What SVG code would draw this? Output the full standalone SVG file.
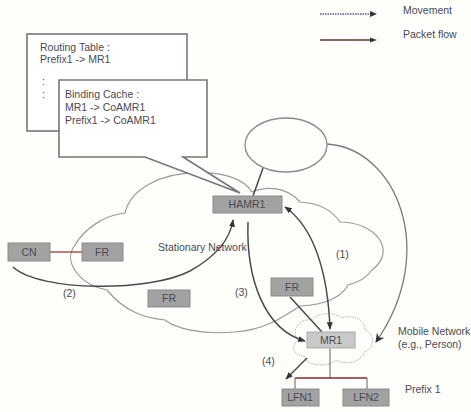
<svg xmlns="http://www.w3.org/2000/svg" width="471" height="412" viewBox="0 0 471 412">
<defs>
<style>
text{font-family:"Liberation Sans",Arial,sans-serif;font-size:10.5px;fill:#4a4a52}
.box{fill:#a2a2a2;stroke:#8a8a8a;stroke-width:1}
.lt{fill:#c9c9c9;stroke:#aaa;stroke-width:1}
.call{fill:#fff;stroke:#777;stroke-width:1.6}
.cloud{fill:none;stroke:#9a9a9a;stroke-width:1.2}
.mv{fill:none;stroke:#7a7a7a;stroke-width:1.3}
.pk{fill:none;stroke:#4a4a4a;stroke-width:1.5}
.c{text-anchor:middle}
</style>
<marker id="ah" viewBox="0 0 10 10" refX="9" refY="5" markerWidth="5" markerHeight="5" orient="auto-start-reverse"><path d="M0,1 L10,5 L0,9 Z" fill="#333"/></marker>
<marker id="ah2" viewBox="0 0 10 10" refX="9" refY="5" markerWidth="7" markerHeight="7" orient="auto"><path d="M0,0 L10,5 L0,10 L3,5 Z" fill="#333"/></marker>
</defs>
<rect width="471" height="412" fill="#fefefa"/>

<g id="legend">
<line x1="320" y1="14" x2="374" y2="14" stroke="#5a5a9a" stroke-width="1.5" stroke-dasharray="1.5,1"/>
<path d="M370,11 L377,14 L370,17 Z" fill="#333"/>
<text x="403" y="14">Movement</text>
<line x1="320" y1="40" x2="374" y2="40" stroke="#6a3030" stroke-width="1.5"/>
<path d="M370,37.5 L377,40 L370,42.5 Z" fill="#333"/>
<text x="403" y="38">Packet flow</text>
</g>

<g id="stationary-network">
<path class="cloud" d="M107,290 C80,285 62,262 75,245 C85,228 105,215 125,213 C130,190 160,172 200,173 C225,172 245,180 252,192 C268,185 288,188 300,202 C318,203 332,210 340,222 C375,222 398,250 372,270 C365,280 356,283 348,285 C340,300 320,305 300,306 C285,316 265,330 235,332 C200,335 175,328 165,320 C145,318 125,312 107,290 Z"/>
<text x="158" y="251">Stationary Network</text>
</g>

<g id="mobile-network">
<path d="M298,340 C290,330 300,318 312,320 C318,312 335,312 342,318 C352,314 366,320 365,330 C376,334 374,350 364,352 C362,362 345,366 336,360 C328,368 306,366 304,356 C294,356 290,346 298,340 Z" fill="none" stroke="#b5b5b5" stroke-width="1" stroke-dasharray="1.5,1"/>
<text x="398" y="335">Mobile Network</text>
<text x="398" y="348">(e.g., Person)</text>
</g>

<g id="routing-table">
<rect class="call" x="27" y="34" width="160" height="97"/>
<text x="40" y="51">Routing Table :</text>
<text x="40" y="63">Prefix1 -&gt; MR1</text>
<text x="42" y="85">:</text>
<text x="42" y="98">:</text>
</g>

<g id="binding-cache">
<path class="call" d="M59,80 H207 V157 H183 L240,193 L145,157 H59 Z"/>
<text x="65" y="98">Binding Cache :</text>
<text x="65" y="111">MR1 -&gt; CoAMR1</text>
<text x="65" y="124">Prefix1 -&gt; CoAMR1</text>
</g>

<g id="connectors">
<line x1="263" y1="168" x2="253" y2="196" class="pk"/>
<path class="mv" d="M327,144 C395,148 440,250 376,342" marker-end="url(#ah2)"/>
<line x1="50" y1="252" x2="82" y2="252" stroke="#9a3a3a" stroke-width="1.3"/>
<path class="pk" d="M13,267 C40,292 150,292 190,271 C215,257 230,240 233,220" marker-end="url(#ah)"/>
<path class="pk" d="M285,207 C315,228 328,275 330,329" marker-start="url(#ah)" marker-end="url(#ah)"/>
<path class="pk" d="M248,222 C246,280 265,330 305,341" marker-end="url(#ah)"/>
<line x1="290" y1="297" x2="322" y2="332" class="pk"/>
<line x1="307" y1="358" x2="286" y2="379" class="pk" marker-end="url(#ah)"/>
<line x1="330" y1="348" x2="330" y2="378" stroke="#777" stroke-width="1.2"/>
<line x1="295" y1="378" x2="367" y2="378" stroke="#8a2a2a" stroke-width="1.6"/>
<line x1="295" y1="378" x2="295" y2="389" stroke="#777" stroke-width="1.2"/>
<line x1="367" y1="378" x2="367" y2="389" stroke="#777" stroke-width="1.2"/>
<text x="336" y="258">(1)</text>
<text x="63" y="297">(2)</text>
<text x="235" y="296">(3)</text>
<text x="262" y="365">(4)</text>
</g>

<g id="ellipse">
<ellipse cx="286" cy="145" rx="41" ry="27" fill="none" stroke="#8a8a8a" stroke-width="1.3"/>
</g>

<g id="HAMR1"><rect class="box" x="213" y="196" width="69" height="17"/><text class="c" x="247" y="208">HAMR1</text></g>
<g id="CN"><rect class="box" x="8" y="243" width="42" height="18"/><text class="c" x="29" y="256">CN</text></g>
<g id="FR1"><rect class="box" x="82" y="243" width="41" height="18"/><text class="c" x="102" y="256">FR</text></g>
<g id="FR2"><rect class="box" x="148" y="290" width="42" height="17"/><text class="c" x="169" y="302">FR</text></g>
<g id="FR3"><rect class="box" x="271" y="278" width="42" height="18"/><text class="c" x="292" y="291">FR</text></g>
<g id="MR1"><rect class="lt" x="307" y="332" width="48" height="16"/><text class="c" x="331" y="344">MR1</text></g>
<g id="LFN1"><rect class="box" x="282" y="389" width="37" height="17"/><text class="c" x="300" y="401">LFN1</text></g>
<g id="LFN2"><rect class="box" x="343" y="389" width="46" height="17"/><text class="c" x="366" y="401">LFN2</text></g>
<text x="405" y="393">Prefix 1</text>
</svg>
